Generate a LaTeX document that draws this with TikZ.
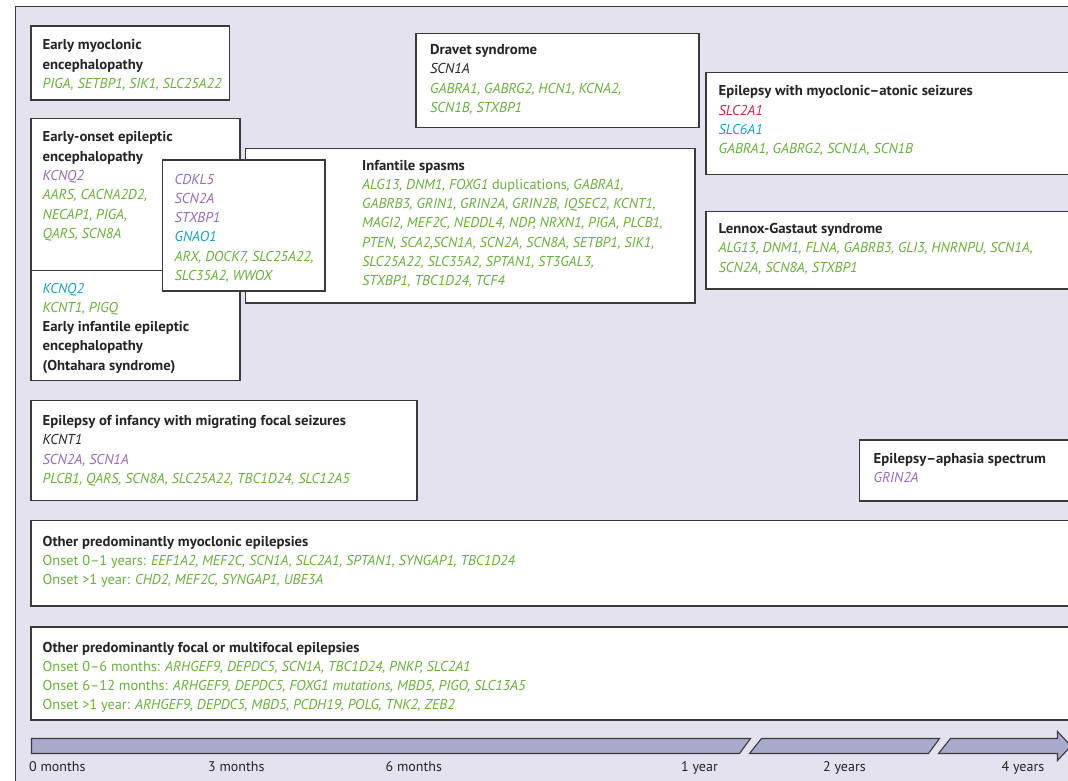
\documentclass[tikz,border=0pt]{standalone}
\usepackage{fontspec}
\setmainfont{PT Sans}[BoldFeatures={FakeStretch=1.03}]
\definecolor{panel}{HTML}{E4E2EF}
\definecolor{barfill}{HTML}{A9ABCC}
\definecolor{ink}{HTML}{262324}
\definecolor{edge}{HTML}{3A3A3A}
\definecolor{gn}{HTML}{6AB03F}
\definecolor{pu}{HTML}{9A6AB6}
\definecolor{tl}{HTML}{1FA0C0}
\definecolor{rd}{HTML}{C1284C}
% text helpers
\newcommand\hd[1]{\textbf{#1}}
\newcommand\gn[1]{\textcolor{gn}{\itshape #1}}
\newcommand\pu[1]{\textcolor{pu}{\itshape #1}}
\newcommand\tl[1]{\textcolor{tl}{\itshape #1}}
\newcommand\rd[1]{\textcolor{rd}{\itshape #1}}
\newcommand\bk[1]{\textit{#1}}
\newcommand\rows[1]{\begin{tabular}[t]{@{}l@{}}#1\end{tabular}}
\begin{document}
\begin{tikzpicture}[x=1pt,y=-1pt,
  box/.style={draw=edge,line width=1.2pt,fill=white},
  txt/.style={anchor=base west,inner sep=0pt,text=ink,font=\fontsize{14.3}{19.3}\selectfont},
  axislabel/.style={anchor=base west,inner sep=0pt,text=ink,font=\fontsize{14}{16}\selectfont},
  barseg/.style={draw=edge,line width=1.1pt,fill=barfill,line join=miter}]
\useasboundingbox (0,0) rectangle (1068,781);
\clip (0,0) rectangle (1068,781);
\fill[white] (0,0) rectangle (1068,781);
% background panel
\draw[fill=panel,draw=edge,line width=1.3pt] (15.5,6.5) rectangle (1090,800);

% early myoclonic encephalopathy
\draw[box] (31,26) rectangle (229.5,100);
\node[txt] (eme) at (42.5,50) {\rows{\hd{Early myoclonic}\\ \hd{encephalopathy}\\ \gn{PIGA, SETBP1, SIK1, SLC25A22}}};

% early-onset epileptic encephalopathy
\draw[box] (31,118.5) rectangle (240,272);
\node[txt] (eoee) at (42.5,142) {\rows{\hd{Early-onset epileptic}\\ \hd{encephalopathy}\\ \pu{KCNQ2}\\ \gn{AARS, CACNA2D2,}\\ \gn{NECAP1, PIGA,}\\ \gn{QARS, SCN8A}}};

% Ohtahara syndrome
\draw[box] (31,270.5) rectangle (240,380.5);
\node[txt] (ohta) at (42.5,293) {\rows{\tl{KCNQ2}\\ \gn{KCNT1, PIGQ}\\ \hd{Early infantile epileptic}\\ \hd{encephalopathy}\\ \hd{(Ohtahara syndrome)}}};

% infantile spasms
\draw[box] (245.5,148.5) rectangle (695,303);
\node[txt] (spasms) at (362,170) {\rows{\hd{Infantile spasms}\\
 \gn{ALG13, DNM1, FOXG1 \upshape duplications\itshape, GABRA1,}\\
 \gn{GABRB3, GRIN1, GRIN2A, GRIN2B, IQSEC2, KCNT1,}\\
 \gn{MAGI2, MEF2C, NEDDL4, NDP, NRXN1, PIGA, PLCB1,}\\
 \gn{PTEN, SCA2,SCN1A, SCN2A, SCN8A, SETBP1, SIK1,}\\
 \gn{SLC25A22, SLC35A2, SPTAN1, ST3GAL3,}\\
 \gn{STXBP1, TBC1D24, TCF4}}};

% genes shared by the early encephalopathies and infantile spasms
\draw[box] (162.5,160) rectangle (325,291);
\node[txt] (shared) at (174.5,184) {\rows{\pu{CDKL5}\\ \pu{SCN2A}\\ \pu{STXBP1}\\ \tl{GNAO1}\\ \gn{ARX, DOCK7, SLC25A22,}\\ \gn{SLC35A2, WWOX}}};

% Dravet syndrome
\draw[box] (416,33.5) rectangle (699,127.5);
\node[txt] (dravet) at (430,54.5) {\rows{\hd{Dravet syndrome}\\ \bk{SCN1A}\\ \gn{GABRA1, GABRG2, HCN1, KCNA2,}\\ \gn{SCN1B, STXBP1}}};

% epilepsy with myoclonic-atonic seizures
\draw[box] (706,72.5) rectangle (1090,174.5);
\node[txt] (mas) at (718.5,96) {\rows{\hd{Epilepsy with myoclonic–atonic seizures}\\ \rd{SLC2A1}\\ \tl{SLC6A1}\\ \gn{GABRA1, GABRG2, SCN1A, SCN1B}}};

% Lennox-Gastaut syndrome
\draw[box] (706,211.5) rectangle (1090,289);
\node[txt] (lgs) at (718.5,233.5) {\rows{\hd{Lennox-Gastaut syndrome}\\ \gn{ALG13, DNM1, FLNA, GABRB3, GLI3, HNRNPU, SCN1A,}\\ \gn{SCN2A, SCN8A, STXBP1}}};

% migrating focal seizures
\draw[box] (31,400.5) rectangle (417,500.5);
\node[txt] (mfs) at (42.5,425.5) {\rows{\hd{Epilepsy of infancy with migrating focal seizures}\\ \bk{KCNT1}\\ \pu{SCN2A, SCN1A}\\ \gn{PLCB1, QARS, SCN8A, SLC25A22, TBC1D24, SLC12A5}}};

% epilepsy-aphasia spectrum
\draw[box] (859.5,440) rectangle (1090,501);
\node[txt] (eas) at (873.5,463.5) {\rows{\hd{Epilepsy–aphasia spectrum}\\ \pu{GRIN2A}}};

% other myoclonic epilepsies
\draw[box] (31,520.5) rectangle (1090,606);
\node[txt] (myo) at (42.5,546) {\rows{\hd{Other predominantly myoclonic epilepsies}\\
 \textcolor{gn}{Onset 0–1 years: \textit{EEF1A2, MEF2C, SCN1A, SLC2A1, SPTAN1, SYNGAP1, TBC1D24}}\\
 \textcolor{gn}{Onset >1 year: \textit{CHD2, MEF2C, SYNGAP1, UBE3A}}}};

% other focal epilepsies
\draw[box] (31,627) rectangle (1090,720);
\node[txt] (focal) at (42.5,652) {\rows{\hd{Other predominantly focal or multifocal epilepsies}\\
 \textcolor{gn}{Onset 0–6 months: \textit{ARHGEF9, DEPDC5, SCN1A, TBC1D24, PNKP, SLC2A1}}\\
 \textcolor{gn}{Onset 6–12 months: \textit{ARHGEF9, DEPDC5, FOXG1 mutations, MBD5, PIGO, SLC13A5}}\\
 \textcolor{gn}{Onset >1 year: \textit{ARHGEF9, DEPDC5, MBD5, PCDH19, POLG, TNK2, ZEB2}}}};

% age axis with breaks
\draw[barseg] (31.5,738.5) -- (750.5,738.5) -- (739.5,753.5) -- (31.5,753.5) -- cycle;
\draw[barseg] (761.5,738.5) -- (939.5,738.5) -- (928.5,753.5) -- (749.5,753.5) -- cycle;
\draw[barseg] (950.5,738.5) -- (1057.5,738.5) -- (1057.5,731.5) -- (1071,746) -- (1057.5,760.5) -- (1057.5,753.5) -- (938.5,753.5) -- cycle;
\node[axislabel] (m0) at (29,771.5) {0 months};
\node[axislabel] (m3) at (208,771.5) {3 months};
\node[axislabel] (m6) at (385.5,771.5) {6 months};
\node[axislabel] (y1) at (681,771.5) {1 year};
\node[axislabel] (y2) at (823,771.5) {2 years};
\node[axislabel] (y4) at (1001.5,771.5) {4 years};
\end{tikzpicture}
\end{document}
